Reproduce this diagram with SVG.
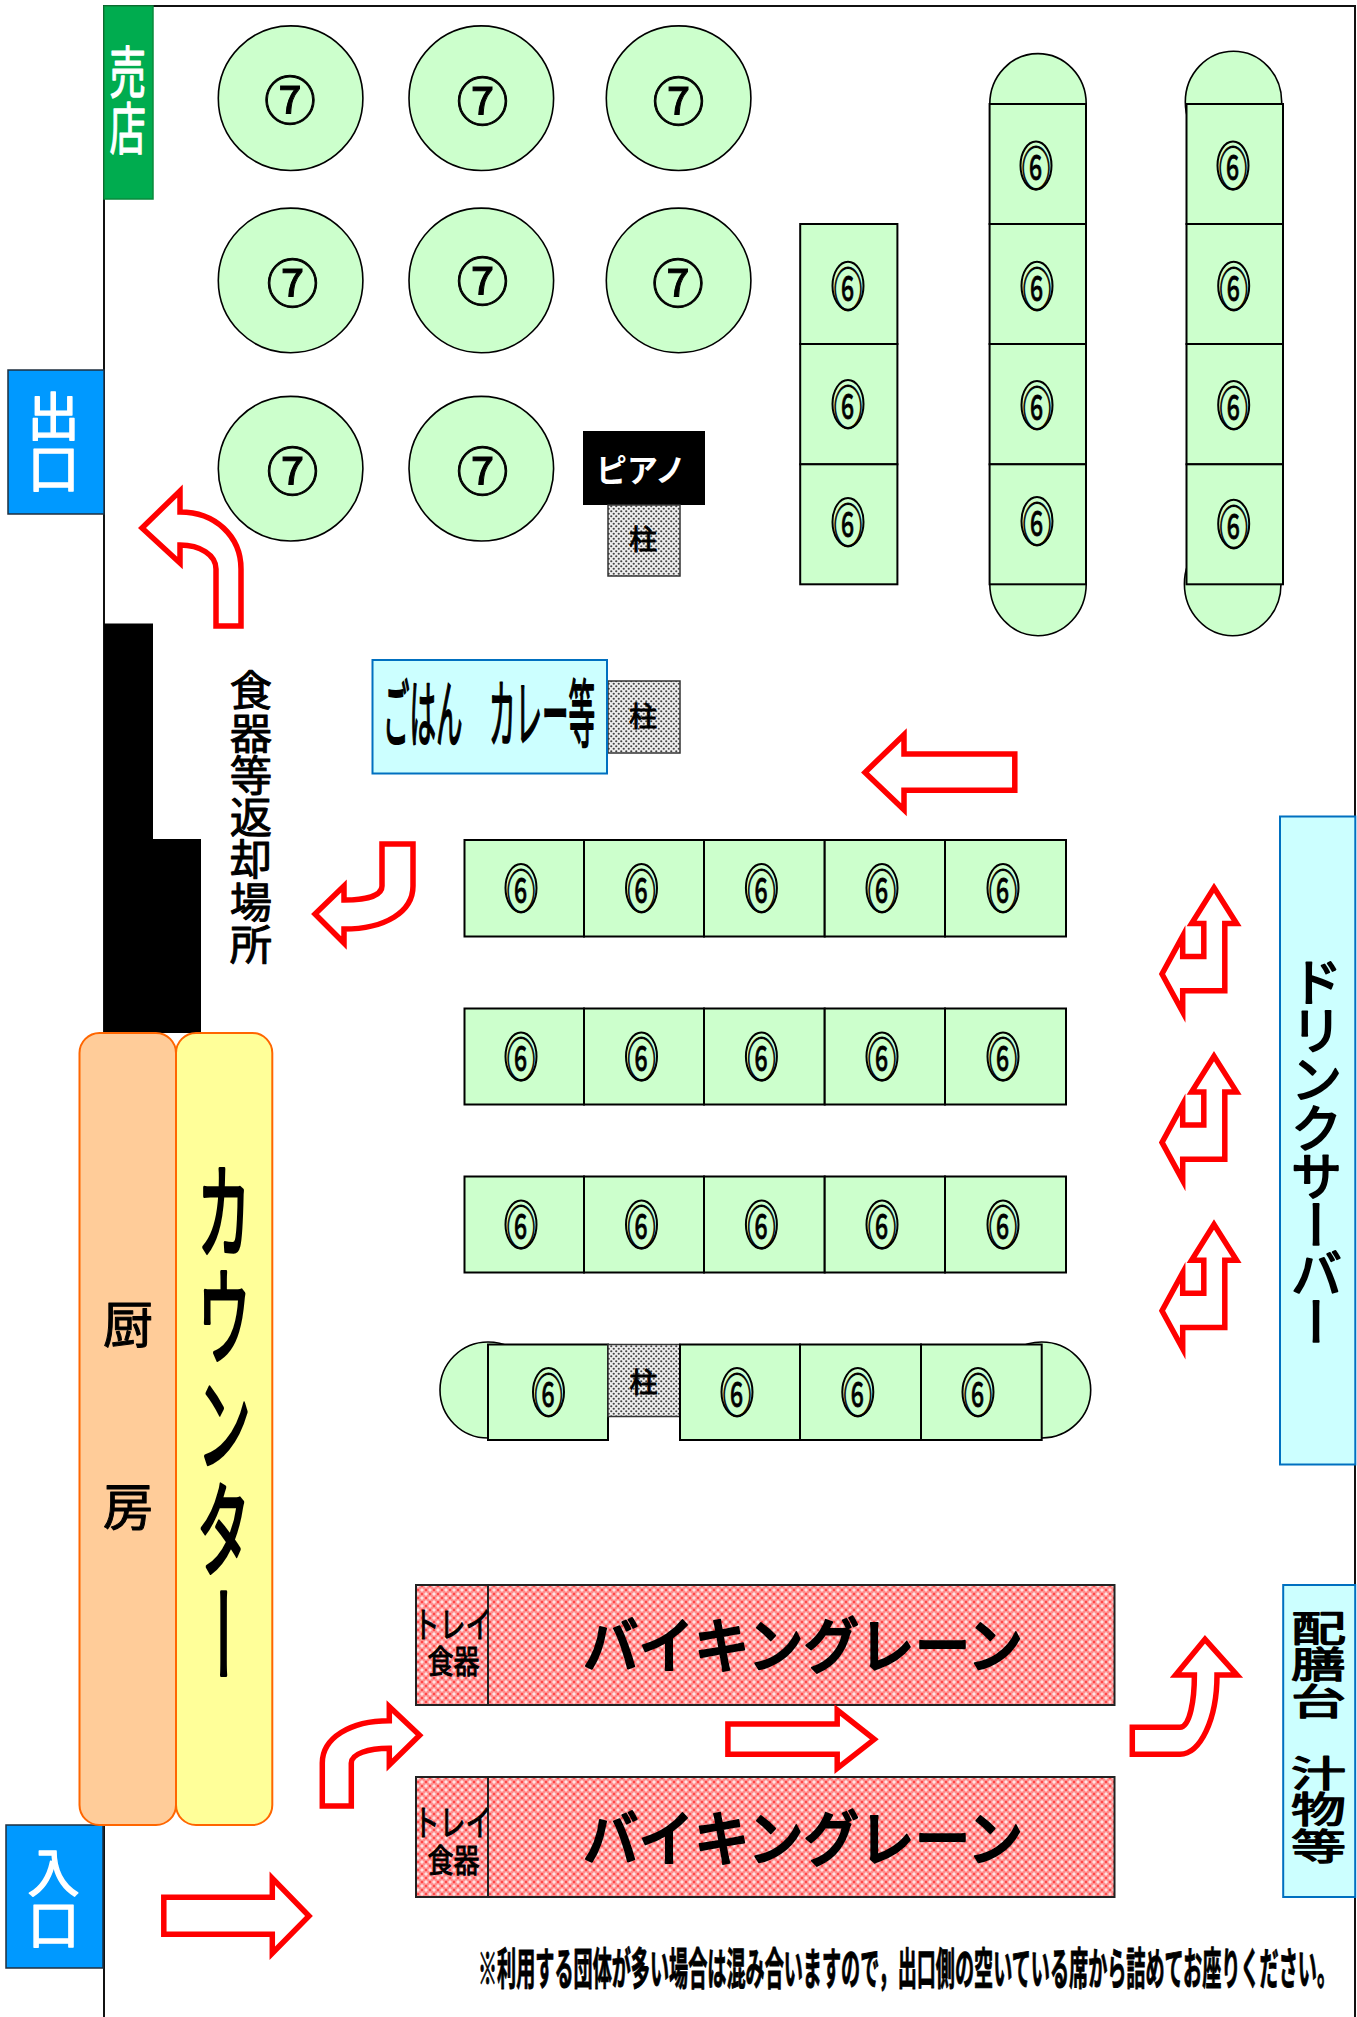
<svg xmlns="http://www.w3.org/2000/svg" width="1357" height="2017" viewBox="0 0 1357 2017">
<style>
text{font-family:"Noto Sans CJK JP","Noto Sans",sans-serif;fill:#000}
.v{writing-mode:vertical-rl}
.c{text-anchor:middle;dominant-baseline:central}
.w{fill:#fff}
.w1{stroke:#fff;stroke-width:1.4;stroke-linejoin:round}
.b{stroke:#000;stroke-width:1;stroke-linejoin:round}
.b2{stroke:#000;stroke-width:2;stroke-linejoin:round}
.t{fill:#ccffcc;stroke:#000;stroke-width:2}
.cap{fill:#ccffcc;stroke:#000;stroke-width:1.6}
.s{font-size:46px;stroke:#000;stroke-width:.9}
.n{font-size:52px;stroke:#000;stroke-width:1}
.ring{fill:none;stroke:#000;stroke-width:2}
.blue{fill:#0099ff;stroke:#1f2f3f;stroke-width:1.5}
.cy{fill:#ccffff;stroke:#0070c0;stroke-width:2}
.pillar{fill:url(#dots);stroke:#333;stroke-width:1.5}
.lane{fill:url(#lace);stroke:#222;stroke-width:2}
.arrow{fill:#fff;stroke:#ff0000;stroke-width:5.5;stroke-linejoin:miter;stroke-miterlimit:8}
</style>
<defs>
<pattern id="dots" width="5" height="5" patternUnits="userSpaceOnUse"><rect width="5" height="5" fill="#eeeeee"/><circle cx="1.25" cy="1.25" r="1.1" fill="#444"/><circle cx="3.75" cy="3.75" r="1.1" fill="#444"/></pattern>
<pattern id="lace" width="8" height="8" patternUnits="userSpaceOnUse"><rect width="8" height="8" fill="#ff8f8f"/><path d="M2,0L4,2L2,4L0,2ZM6,4L8,6L6,8L4,6Z" fill="#ffe4e4"/><path d="M6,.8L7.2,2L6,3.2L4.8,2ZM2,4.8L3.2,6L2,7.2L.8,6Z" fill="#ff2a2a"/></pattern>
<path id="bent" d="M1214,887.8L1236.6,923.5H1224.8V990.8H1182.7V1012L1162,974L1182.7,936V956.6H1203.8V923.5H1191.6Z"/>
</defs>
<rect width="1357" height="2017" fill="#fff"/>
<g id="walls"><path d="M104,2017V6H1355V2017" fill="none" stroke="#111" stroke-width="2"/></g>

<g id="shop"><rect x="104" y="6" width="49" height="193" fill="#00ac4f" stroke="#0a8a3c" stroke-width="1.5"/><text class="v w w1" transform="translate(127.6,44) scale(.65,1)" font-size="56">売店</text></g>
<g id="exit"><rect class="blue" x="8" y="370" width="96" height="144"/><text class="v w w1" x="53.6" y="390" font-size="52">出口</text></g>
<g id="entrance"><rect class="blue" x="6" y="1825" width="97" height="143"/><text class="v w w1" x="53.6" y="1846" font-size="52">入口</text></g>

<g id="round-tables">
<g id="r1"><circle class="cap" cx="290.6" cy="98.2" r="72.3"/><text class="c n" x="290" y="97">⑦</text></g>
<g id="r2"><circle class="cap" cx="481.3" cy="98.2" r="72.3"/><text class="c n" x="482.6" y="98">⑦</text></g>
<g id="r3"><circle class="cap" cx="678.6" cy="98.2" r="72.3"/><text class="c n" x="678.6" y="98">⑦</text></g>
<g id="r4"><circle class="cap" cx="290.6" cy="280.4" r="72.3"/><text class="c n" x="292.4" y="280">⑦</text></g>
<g id="r5"><circle class="cap" cx="481.3" cy="280.4" r="72.3"/><text class="c n" x="482.6" y="278">⑦</text></g>
<g id="r6"><circle class="cap" cx="678.6" cy="280.4" r="72.3"/><text class="c n" x="678" y="280">⑦</text></g>
<g id="r7"><circle class="cap" cx="290.6" cy="468.7" r="72.3"/><text class="c n" x="292.4" y="468.7">⑦</text></g>
<g id="r8"><circle class="cap" cx="481.3" cy="468.7" r="72.3"/><text class="c n" x="482.6" y="468.7">⑦</text></g>
</g>

<g id="piano"><rect x="583" y="431" width="122" height="74" fill="#000"/><text class="c w" x="641" y="468" font-size="32" font-weight="700" textLength="90" lengthAdjust="spacingAndGlyphs">ピアノ</text></g>
<g id="pillar1"><rect class="pillar" x="608" y="505" width="72" height="71"/><text class="c b" x="643" y="538" font-size="28">柱</text></g>
<g id="pillar2"><rect class="pillar" x="608" y="681" width="72" height="72"/><text class="c b" x="643" y="715" font-size="28">柱</text></g>

<g id="col-a">
<rect class="t" x="800.2" y="224" width="97.2" height="120"/><rect class="t" x="800.2" y="344" width="97.2" height="120.3"/><rect class="t" x="800.2" y="464.3" width="97.2" height="120"/>
<ellipse class="ring" cx="848" cy="285.7" rx="15.5" ry="24"/><text class="c s" transform="translate(848,285.7) scale(.62,1)">⑥</text>
<ellipse class="ring" cx="848" cy="404" rx="15.5" ry="24"/><text class="c s" transform="translate(848,404) scale(.62,1)">⑥</text>
<ellipse class="ring" cx="848" cy="522" rx="15.5" ry="24"/><text class="c s" transform="translate(848,522) scale(.62,1)">⑥</text>
</g>
<g id="col-b">
<ellipse class="cap" cx="1038" cy="104" rx="48.2" ry="50.4"/><ellipse class="cap" cx="1038" cy="584" rx="48.2" ry="51.7"/>
<rect class="t" x="989.6" y="104" width="96.4" height="120"/><rect class="t" x="989.6" y="224" width="96.4" height="120"/><rect class="t" x="989.6" y="344" width="96.4" height="120.3"/><rect class="t" x="989.6" y="464.3" width="96.4" height="120"/>
<ellipse class="ring" cx="1036" cy="165.6" rx="15.5" ry="24"/><text class="c s" transform="translate(1036,165.6) scale(.62,1)">⑥</text>
<ellipse class="ring" cx="1037" cy="285.7" rx="15.5" ry="24"/><text class="c s" transform="translate(1037,285.7) scale(.62,1)">⑥</text>
<ellipse class="ring" cx="1037" cy="405" rx="15.5" ry="24"/><text class="c s" transform="translate(1037,405) scale(.62,1)">⑥</text>
<ellipse class="ring" cx="1037" cy="521" rx="15.5" ry="24"/><text class="c s" transform="translate(1037,521) scale(.62,1)">⑥</text>
</g>
<g id="col-c">
<ellipse class="cap" cx="1233.5" cy="102" rx="48.2" ry="50.7"/><ellipse class="cap" cx="1232.7" cy="584" rx="48.3" ry="51.7"/>
<rect class="t" x="1186.5" y="104" width="96.5" height="120"/><rect class="t" x="1186.5" y="224" width="96.5" height="120"/><rect class="t" x="1186.5" y="344" width="96.5" height="120.3"/><rect class="t" x="1186.5" y="464.3" width="96.5" height="120"/>
<ellipse class="ring" cx="1233" cy="165.6" rx="15.5" ry="24"/><text class="c s" transform="translate(1233,165.6) scale(.62,1)">⑥</text>
<ellipse class="ring" cx="1233.7" cy="285.7" rx="15.5" ry="24"/><text class="c s" transform="translate(1233.7,285.7) scale(.62,1)">⑥</text>
<ellipse class="ring" cx="1233.7" cy="405" rx="15.5" ry="24"/><text class="c s" transform="translate(1233.7,405) scale(.62,1)">⑥</text>
<ellipse class="ring" cx="1233.7" cy="523.7" rx="15.5" ry="24"/><text class="c s" transform="translate(1233.7,523.7) scale(.62,1)">⑥</text>
</g>
<g id="row-1">
<rect class="t" x="464.5" y="840" width="119.5" height="96.5"/><rect class="t" x="584" y="840" width="120" height="96.5"/><rect class="t" x="704" y="840" width="120.7" height="96.5"/><rect class="t" x="824.7" y="840" width="120.3" height="96.5"/><rect class="t" x="945" y="840" width="121" height="96.5"/>
<ellipse class="ring" cx="521" cy="888" rx="15.5" ry="24"/><text class="c s" transform="translate(521,888) scale(.62,1)">⑥</text>
<ellipse class="ring" cx="641.5" cy="888" rx="15.5" ry="24"/><text class="c s" transform="translate(641.5,888) scale(.62,1)">⑥</text>
<ellipse class="ring" cx="761.4" cy="888" rx="15.5" ry="24"/><text class="c s" transform="translate(761.4,888) scale(.62,1)">⑥</text>
<ellipse class="ring" cx="882" cy="888" rx="15.5" ry="24"/><text class="c s" transform="translate(882,888) scale(.62,1)">⑥</text>
<ellipse class="ring" cx="1003" cy="888" rx="15.5" ry="24"/><text class="c s" transform="translate(1003,888) scale(.62,1)">⑥</text>
</g>
<g id="row-2">
<rect class="t" x="464.5" y="1008.5" width="119.5" height="96"/><rect class="t" x="584" y="1008.5" width="120" height="96"/><rect class="t" x="704" y="1008.5" width="120.7" height="96"/><rect class="t" x="824.7" y="1008.5" width="120.3" height="96"/><rect class="t" x="945" y="1008.5" width="121" height="96"/>
<ellipse class="ring" cx="521" cy="1056.5" rx="15.5" ry="24"/><text class="c s" transform="translate(521,1056.5) scale(.62,1)">⑥</text>
<ellipse class="ring" cx="641.5" cy="1056.5" rx="15.5" ry="24"/><text class="c s" transform="translate(641.5,1056.5) scale(.62,1)">⑥</text>
<ellipse class="ring" cx="761.4" cy="1056.5" rx="15.5" ry="24"/><text class="c s" transform="translate(761.4,1056.5) scale(.62,1)">⑥</text>
<ellipse class="ring" cx="882" cy="1056.5" rx="15.5" ry="24"/><text class="c s" transform="translate(882,1056.5) scale(.62,1)">⑥</text>
<ellipse class="ring" cx="1003" cy="1056.5" rx="15.5" ry="24"/><text class="c s" transform="translate(1003,1056.5) scale(.62,1)">⑥</text>
</g>
<g id="row-3">
<rect class="t" x="464.5" y="1176.5" width="119.5" height="96"/><rect class="t" x="584" y="1176.5" width="120" height="96"/><rect class="t" x="704" y="1176.5" width="120.7" height="96"/><rect class="t" x="824.7" y="1176.5" width="120.3" height="96"/><rect class="t" x="945" y="1176.5" width="121" height="96"/>
<ellipse class="ring" cx="521" cy="1224.5" rx="15.5" ry="24"/><text class="c s" transform="translate(521,1224.5) scale(.62,1)">⑥</text>
<ellipse class="ring" cx="641.5" cy="1224.5" rx="15.5" ry="24"/><text class="c s" transform="translate(641.5,1224.5) scale(.62,1)">⑥</text>
<ellipse class="ring" cx="761.4" cy="1224.5" rx="15.5" ry="24"/><text class="c s" transform="translate(761.4,1224.5) scale(.62,1)">⑥</text>
<ellipse class="ring" cx="882" cy="1224.5" rx="15.5" ry="24"/><text class="c s" transform="translate(882,1224.5) scale(.62,1)">⑥</text>
<ellipse class="ring" cx="1003" cy="1224.5" rx="15.5" ry="24"/><text class="c s" transform="translate(1003,1224.5) scale(.62,1)">⑥</text>
</g>
<g id="row-4">
<ellipse class="cap" cx="488" cy="1390" rx="48" ry="48"/><ellipse class="cap" cx="1041.7" cy="1390" rx="49" ry="48"/>
<rect class="t" x="488" y="1344.5" width="120" height="95.5"/><rect class="pillar" x="608" y="1344.5" width="72" height="72"/><rect class="t" x="680" y="1344.5" width="120" height="95.5"/><rect class="t" x="800" y="1344.5" width="121" height="95.5"/><rect class="t" x="921" y="1344.5" width="120.7" height="95.5"/>
<text class="c b" x="643.5" y="1381" font-size="28">柱</text>
<ellipse class="ring" cx="548.5" cy="1392" rx="15.5" ry="24"/><text class="c s" transform="translate(548.5,1392) scale(.62,1)">⑥</text>
<ellipse class="ring" cx="737" cy="1392" rx="15.5" ry="24"/><text class="c s" transform="translate(737,1392) scale(.62,1)">⑥</text>
<ellipse class="ring" cx="857.8" cy="1392" rx="15.5" ry="24"/><text class="c s" transform="translate(857.8,1392) scale(.62,1)">⑥</text>
<ellipse class="ring" cx="978" cy="1392" rx="15.5" ry="24"/><text class="c s" transform="translate(978,1392) scale(.62,1)">⑥</text>
</g>

<g id="return-area"><path d="M104,623.5H153V839H201V1033H104Z" fill="#000"/><text class="v b" x="251" y="669" font-size="42.3">食器等返却場所</text></g>
<g id="rice"><rect class="cy" x="372.5" y="660" width="234.5" height="113.5"/><text class="c b2" x="489" y="708" font-size="74" textLength="212" lengthAdjust="spacingAndGlyphs">ごはん　カレー等</text></g>
<g id="kitchen"><rect x="79.5" y="1033" width="96.5" height="792" rx="20" fill="#ffcc99" stroke="#ff6600" stroke-width="2"/><text class="c b" x="128" y="1321" font-size="50">厨</text><text class="c b" x="128" y="1503" font-size="50">房</text></g>
<g id="counter"><rect x="176" y="1033" width="96.3" height="792" rx="20" fill="#ffff99" stroke="#ff6600" stroke-width="2"/><text class="v" transform="translate(224,1158) scale(.52,1)" font-size="106" style="stroke:#000;stroke-width:3.5;stroke-linejoin:round">カウンター</text></g>
<g id="drinks"><rect class="cy" x="1280" y="816.5" width="75.3" height="648"/><text class="v b2" x="1316.6" y="956" font-size="52" letter-spacing="-3.4">ドリンクサーバー</text></g>
<g id="serving"><rect class="cy" x="1283.2" y="1585" width="72" height="312"/><text class="v b2" transform="translate(1318.5,1610) scale(1,.66)" font-size="55">配膳台　汁物等</text></g>

<g id="lane-1"><rect class="lane" x="416" y="1585" width="72" height="120"/><rect class="lane" x="488" y="1585" width="626.5" height="120"/>
<text class="c b" x="452.5" y="1622" font-size="36" textLength="78" lengthAdjust="spacingAndGlyphs">トレイ</text><text class="c b" x="453.5" y="1659" font-size="32" textLength="52" lengthAdjust="spacingAndGlyphs">食器</text>
<text class="c b2" x="803" y="1641" font-size="60" font-weight="500" textLength="440" lengthAdjust="spacingAndGlyphs">バイキングレーン</text></g>
<g id="lane-2"><rect class="lane" x="416" y="1777" width="72" height="120"/><rect class="lane" x="488" y="1777" width="626.5" height="120"/>
<text class="c b" x="452.5" y="1820" font-size="36" textLength="78" lengthAdjust="spacingAndGlyphs">トレイ</text><text class="c b" x="453.5" y="1858" font-size="32" textLength="52" lengthAdjust="spacingAndGlyphs">食器</text>
<text class="c b2" x="803" y="1834" font-size="60" font-weight="500" textLength="440" lengthAdjust="spacingAndGlyphs">バイキングレーン</text></g>

<g id="note"><text class="c b" x="907" y="1966" font-size="44" font-weight="700" textLength="858" lengthAdjust="spacingAndGlyphs">※利用する団体が多い場合は混み合いますので，出口側の空いている席から詰めてお座りください。</text></g>

<g id="connectors">
<path class="arrow" d="M142,528L180,491V512C215,512 241,536 241,569V626H216V569C216,555 200,545 180,545V563Z"/>
<path class="arrow" d="M382,844H413V886C413,912 385,929 344,929V943L315,914L344,886V900C365,900 382,896 382,886Z"/>
<path class="arrow" d="M865,772.4L904,734.7V754H1014.8V790.3H904V809.7Z"/>
<use href="#bent" class="arrow"/>
<use href="#bent" class="arrow" y="168.4"/>
<use href="#bent" class="arrow" y="336.7"/>
<path class="arrow" d="M322.3,1806H351.3V1763C351.3,1754 368,1748.3 389.3,1748.3V1765L419.6,1735.3L389.3,1706.7V1720.7C350,1720.7 322.3,1738 322.3,1763Z"/>
<path class="arrow" d="M163.8,1897.3H272.3V1878.3L309,1916L272.3,1953.3V1934.3H163.8Z"/>
<path class="arrow" d="M727.9,1724H837.2V1710L874.3,1739.3L837.2,1768.3V1754.3H727.9Z"/>
<path class="arrow" d="M1132.3,1727.3H1180C1190,1727 1194.4,1700 1194.4,1675H1175.6L1205,1639.3L1237,1675H1217C1217,1720 1200,1754 1180,1754.3H1132.3Z"/>
</g>
</svg>
